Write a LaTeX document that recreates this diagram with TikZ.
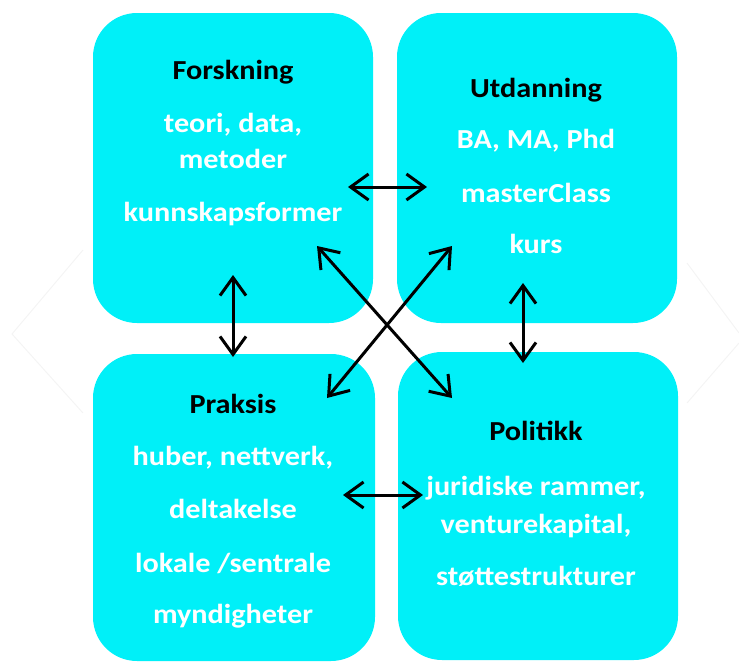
\documentclass[tikz,border=0pt]{standalone}
\usepackage{fontspec}
\newfontfamily\boxfont[FakeStretch=1.1]{Carlito}
\usetikzlibrary{arrows.meta}
\definecolor{boxcyan}{RGB}{0,240,248}
\definecolor{faintline}{RGB}{244,244,244}
\tikzset{
  quad/.style={fill=boxcyan, draw=none, rounded corners=44pt, inner sep=0pt},
  ttl/.style={anchor=base, inner sep=0pt, text=black, font=\boxfont\bfseries\fontsize{27.5}{30}\selectfont},
  itm/.style={anchor=base, inner sep=0pt, text=white, font=\boxfont\bfseries\fontsize{27.5}{30}\selectfont},
  dbl/.style={line width=3pt, {Straight Barb[length=18pt,width=26pt]}-{Straight Barb[length=18pt,width=26pt]}}
}
\begin{document}
\begin{tikzpicture}[x=1pt,y=-1pt]
\useasboundingbox (0,0) rectangle (739,662);
% faint background lines
\draw[faintline, line width=1pt] (83,250) -- (12,334) -- (83,413);
\draw[faintline, line width=1pt] (687,263) -- (739,333);
\draw[faintline, line width=1pt] (739,343) -- (687,403);
% boxes
\node[quad, minimum width=280pt, minimum height=310pt] (forsk) at (233,168) {};
\node[quad, minimum width=280pt, minimum height=310pt] (utd) at (537,168) {};
\node[quad, minimum width=282pt, minimum height=307pt] (prak) at (234,507.5) {};
\node[quad, minimum width=280pt, minimum height=308pt] (pol) at (538,506) {};
% Forskning
\node[ttl] (f0) at (233,79) {Forskning};
\node[itm] (f1) at (233,132) {teori, data,};
\node[itm] (f2) at (233,168) {metoder};
\node[itm] (f3) at (233,221) {kunnskapsformer};
% Utdanning
\node[ttl] (u0) at (536,97) {Utdanning};
\node[itm] (u1) at (536,148) {BA, MA, Phd};
\node[itm] (u2) at (536,202) {masterClass};
\node[itm] (u3) at (536,253) {kurs};
% Praksis
\node[ttl] (p0) at (233,413) {Praksis};
\node[itm] (p1) at (233,465) {huber, nettverk,};
\node[itm] (p2) at (233,518) {deltakelse};
\node[itm] (p3) at (233,572) {lokale /sentrale};
\node[itm] (p4) at (233,623) {myndigheter};
% Politikk
\node[ttl] (q0) at (536,440) {Politikk};
\node[itm] (q1) at (536,495) {juridiske rammer,};
\node[itm] (q2) at (536,533) {venturekapital,};
\node[itm] (q3) at (536,585) {støttestrukturer};
% arrow ends
\coordinate (fuA) at (348,187);
\coordinate (fuB) at (427,187);
\coordinate (fpA) at (233,275);
\coordinate (fpB) at (233,357);
\coordinate (uqA) at (523,283);
\coordinate (uqB) at (523,363);
\coordinate (pqA) at (343,495);
\coordinate (pqB) at (423,495);
\coordinate (fqA) at (317,246);
\coordinate (fqB) at (452,398);
\coordinate (upA) at (452,246);
\coordinate (upB) at (327,398);
% arrows
\draw[dbl] (fuA) -- (fuB);
\draw[dbl] (fpA) -- (fpB);
\draw[dbl] (uqA) -- (uqB);
\draw[dbl] (pqA) -- (pqB);
\draw[dbl] (fqA) -- (fqB);
\draw[dbl] (upA) -- (upB);
\end{tikzpicture}
\end{document}
